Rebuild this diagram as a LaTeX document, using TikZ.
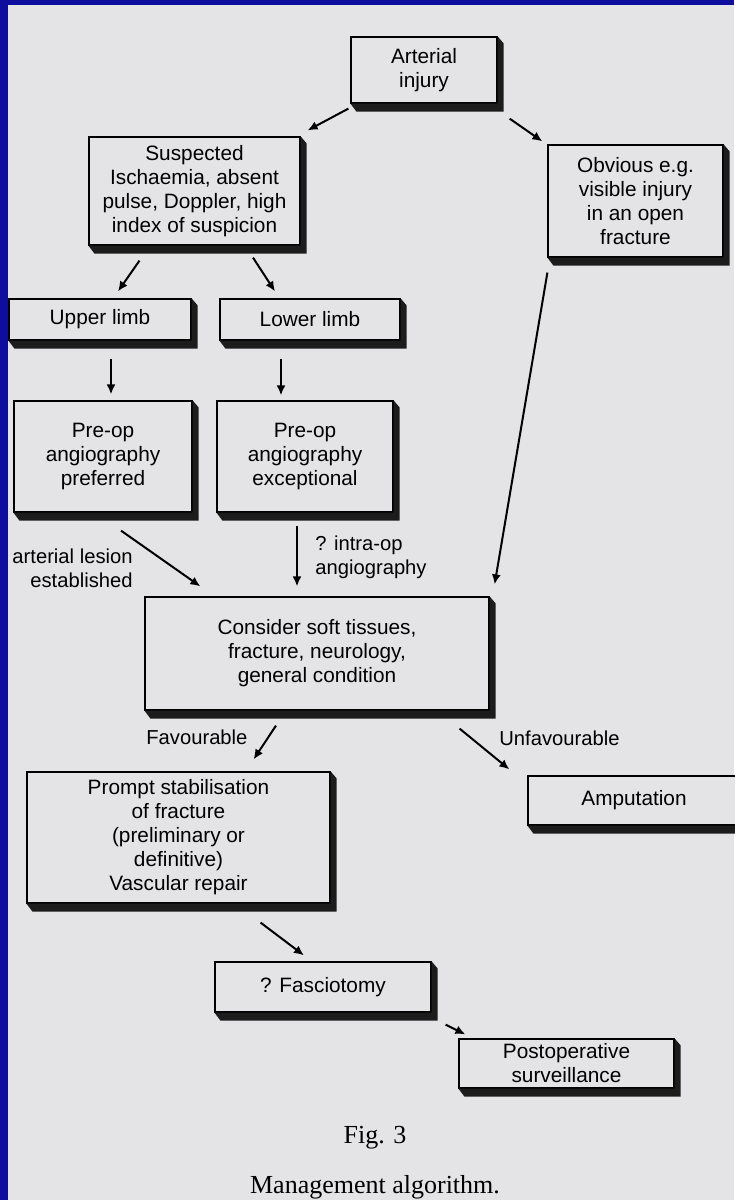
\documentclass[tikz,border=0pt]{standalone}
\usepackage{fontspec}
\setmainfont{Liberation Serif}
\newfontfamily\boxfam{Liberation Sans}
\usetikzlibrary{arrows.meta,calc}

\definecolor{paper}{RGB}{228,228,230}
\definecolor{frame}{RGB}{14,14,158}
\definecolor{slabgray}{RGB}{28,28,28}

\newcommand{\boxslab}[1]{\fill[slabgray] (#1.north east) -- ++(6,7) -- ($(#1.south east)+(6,8)$) -- ($(#1.south west)+(6,8)$) -- (#1.south west) -- (#1.south east) -- cycle;}

\begin{document}
\begin{tikzpicture}[x=0.5pt,y=-0.5pt,
    box/.style={draw, fill=paper, line width=0.6pt, inner sep=0pt, align=center,
                font=\boxfam\fontsize{10.4}{12}\selectfont},
    lbl/.style={inner sep=0pt, font=\boxfam\fontsize{10.1}{12}\selectfont},
    arr/.style={line width=1pt, -{Latex[length=5pt,width=4.5pt]}}]

            \useasboundingbox (0,0) rectangle (734,1200);
            \fill[frame] (0,0) rectangle (734,1200);
            \fill[paper] (8,5) rectangle (734,1200);

            \node[box, minimum width=73pt, minimum height=33pt] (art) at (424,70) {Arterial\\injury};
            \node[box, minimum width=105.5pt, minimum height=54pt] (susp) at (194.5,191) {Suspected\\Ischaemia, absent\\pulse, Doppler, high\\index of suspicion};
            \node[box, minimum width=87.5pt, minimum height=56pt] (obv) at (635.5,201) {Obvious e.g.\\visible injury\\in an open\\fracture};

            \node[box, minimum width=91pt, minimum height=20.5pt] (up) at (100,319.5) {Upper limb};
            \node[box, minimum width=90pt, minimum height=20.5pt] (low) at (310,319.5) {Lower limb};

            \node[box, minimum width=89pt, minimum height=55.5pt] (pre1) at (103,456.5) {Pre-op\\angiography\\preferred};
            \node[box, minimum width=88pt, minimum height=55.5pt] (pre2) at (305,456.5) {Pre-op\\angiography\\exceptional};

            \node[box, minimum width=172pt, minimum height=56.5pt] (cons) at (317,653.5) {Consider soft tissues,\\fracture, neurology,\\general condition};

            \node[box, minimum width=151.5pt, minimum height=65.5pt] (prompt) at (178.5,837.5) {Prompt stabilisation\\of fracture\\(preliminary or\\definitive)\\Vascular repair};
            \node[box, minimum width=106pt, minimum height=24.5pt] (amp) at (634,800.5) {Amputation};

            \node[box, minimum width=108pt, minimum height=25pt] (fasc) at (323,987) {? Fasciotomy};
            \node[box, minimum width=107.5pt, minimum height=24.5pt] (post) at (566.5,1063.5) {Postoperative\\surveillance};

            \foreach \b in {art,susp,obv,up,low,pre1,pre2,cons,prompt,amp,fasc,post}
                \boxslab{\b};

            \node[lbl, align=right, anchor=east] (lesion) at (133,568) {arterial lesion\\established};
            \node[lbl, align=left, anchor=west] (intra) at (315,557) {? intra-op\\angiography};
            \node[lbl, anchor=west] (fav) at (146,737) {Favourable};
            \node[lbl, anchor=west] (unfav) at (499,738) {Unfavourable};

            \draw[arr] ($(art.south west)+(-2,5)$) -- ($(susp.north east)+(7,-6)$);
            \draw[arr] ($(art.south east)+(12,15)$) -- ($(obv.north west)+(-5,-3)$);

            \draw[arr] ($(susp.south)+(-55,15)$) -- ($(up.north)+(18,-7)$);
            \draw[arr] ($(susp.south)+(58.5,12)$) -- ($(low.north)+(-35,-7)$);

            \draw[arr] ($(up.south)+(11,18)$) -- ($(pre1.north)+(8,-6)$);
            \draw[arr] ($(low.south)+(-29,18)$) -- ($(pre2.north)+(-24,-5)$);

            \draw[arr] ($(pre1.south)+(18,18)$) -- ($(cons.north west)+(56,-10)$);
            \draw[arr] ($(pre2.south)+(-8,13)$) -- ($(cons.north)+(-20,-10)$);
            \draw[arr] ($(obv.south west)+(0,15)$) -- ($(cons.north east)+(5,-12)$);

            \draw[arr] ($(cons.south)+(-41,15)$) -- ($(prompt.north east)+(-77,-12)$);
            \draw[arr] ($(cons.south east)+(-30,18)$) -- ($(amp.north west)+(-18,-6)$);

            \draw[arr] ($(prompt.south east)+(-70,19)$) -- ($(fasc.north)+(-19,-6)$);
            \draw[arr] ($(fasc.south east)+(14,12)$) -- ($(post.north west)+(7,-4)$);

            \node[inner sep=0pt, font=\fontsize{13}{15}\selectfont] (fig) at (375,1138) {Fig. 3};
            \node[inner sep=0pt, font=\fontsize{13}{15}\selectfont] (cap) at (375,1187) {Management algorithm.};

\end{tikzpicture}
\end{document}
